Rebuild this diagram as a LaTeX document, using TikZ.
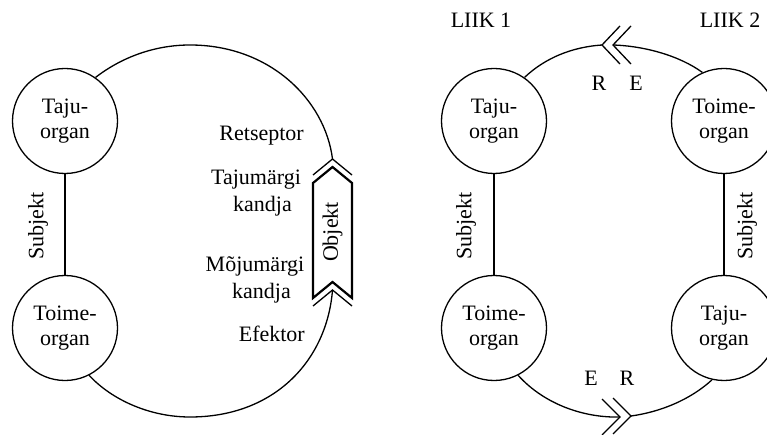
\documentclass[tikz,border=0pt]{standalone}
\usepackage{fontspec}
\setmainfont{Liberation Serif}
\usetikzlibrary{calc}
\begin{document}
\begin{tikzpicture}[x=1pt,y=-1pt,
  organ/.style={circle,draw,line width=1.3pt,fill=white,minimum size=105pt,
    inner sep=0pt,align=center,font=\fontsize{22}{25}\selectfont},
  lbl/.style={font=\fontsize{22}{27}\selectfont,inner sep=0pt,align=center},
  conn/.style={line width=1.3pt},
  chev/.style={line width=1.3pt,line join=miter},
  objbox/.style={line width=2.2pt,line join=miter},
]
\useasboundingbox (0,0) rectangle (767,435);

% ---------- single functional circle ----------
\node[organ] (lt) at (65,121) {Taju-\\organ};
\node[organ] (lb) at (65,328) {Toime-\\organ};
\draw[conn] (lt) -- (lb);
\node[lbl,rotate=90] (ls) at (38,226) {Subjekt};

% object arrow with its receptor and effector notches
\coordinate (ot) at (332.5,159);
\coordinate (ob) at (332.5,290);
\draw[objbox] (313,183) -- (332.5,167) -- (352,183) -- (352,298)
  -- (332.5,282) -- (313,298) -- cycle;
\draw[chev] ($(ot)+(-19.5,16)$) -- (ot) -- ($(ot)+(19.5,16)$);
\draw[chev] ($(ob)+(-19.5,16)$) -- (ob) -- ($(ob)+(19.5,16)$);
\node[lbl,rotate=90] (obj) at (332.5,232) {Objekt};

\draw[conn] (lt.55) .. controls (122,57) and (155,45) .. (190,45)
  .. controls (270,45) and (325,100) .. (ot);
\draw[conn] (ob) .. controls (327,360) and (275,417) .. (190,417)
  .. controls (150,417) and (112,400) .. (lb.-63);

\node[lbl,anchor=east] (ret) at (304,136) {Retseptor};
\node[lbl] (taj) at (256,193) {Tajumärgi\\\hspace*{13pt}kandja};
\node[lbl] (moj) at (255,280) {Mõjumärgi\\\hspace*{13pt}kandja};
\node[lbl,anchor=east] (efe) at (305,334) {Efektor};

% ---------- two species linked ----------
\node[lbl] (liik1) at (481,20) {LIIK 1};
\node[lbl] (liik2) at (730,20) {LIIK 2};

\node[organ] (rtl) at (494,121) {Taju-\\organ};
\node[organ] (rtr) at (724,121) {Toime-\\organ};
\node[organ] (rbl) at (494,328) {Toime-\\organ};
\node[organ] (rbr) at (724,328) {Taju-\\organ};
\draw[conn] (rtl) -- (rbl);
\draw[conn] (rtr) -- (rbr);
\node[lbl,rotate=90] (rs1) at (466,226) {Subjekt};
\node[lbl,rotate=90] (rs2) at (747,226) {Subjekt};

% upper link, pointing left
\coordinate (t1) at (602,45);
\coordinate (t2) at (613,45);
\draw[conn] (rtl.55) .. controls (545,58) and (572,47) .. (t1);
\draw[conn] (t2) .. controls (645,46) and (680,56) .. (rtr.114);
\draw[chev] ($(t1)+(18,-19)$) -- (t1) -- ($(t1)+(18,19)$);
\draw[chev] ($(t2)+(18,-19)$) -- (t2) -- ($(t2)+(18,19)$);
\node[lbl] (r1) at (599,83) {R};
\node[lbl] (e1) at (636,83) {E};

% lower link, pointing right
\coordinate (b1) at (620,417);
\coordinate (b2) at (631,416);
\draw[conn] (rbl.-63) .. controls (545,405) and (585,418) .. (b1);
\draw[conn] (b2) .. controls (660,412) and (690,400) .. (rbr.-103);
\draw[chev] ($(b1)+(-18,-18)$) -- (b1) -- ($(b1)+(-18,18)$);
\draw[chev] ($(b2)+(-18,-18)$) -- (b2) -- ($(b2)+(-18,18)$);
\node[lbl] (e2) at (591,378) {E};
\node[lbl] (r2) at (627,378) {R};
\end{tikzpicture}
\end{document}
